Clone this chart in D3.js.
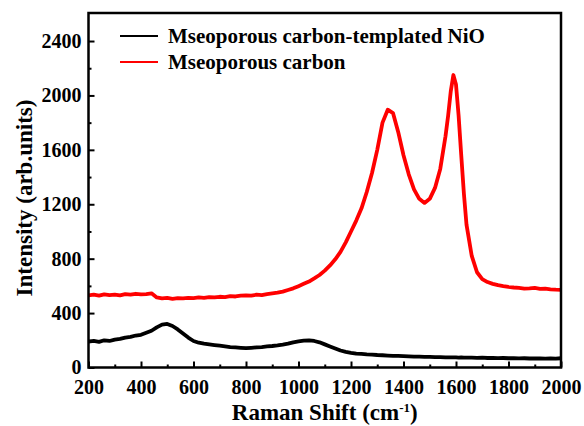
<!DOCTYPE html>
<html>
<head>
<meta charset="utf-8">
<script src="https://cdnjs.cloudflare.com/ajax/libs/d3/7.8.5/d3.min.js"></script>
<style>
  body { margin: 0; background: #fff; }
</style>
</head>
<body>
<script>
// Raman shift (cm-1) sampled along the spectra
var ramanShift = [200, 220, 240, 260, 280, 300, 320, 340, 360, 380, 400, 420, 440, 460, 480, 500, 520, 540, 560, 580,
    600, 620, 640, 660, 680, 700, 720, 740, 760, 780, 800, 820, 840, 860, 880, 900, 920, 940, 960, 980,
    1000, 1020, 1040, 1060, 1080, 1100, 1120, 1140, 1160, 1180, 1200, 1220, 1240, 1260, 1280, 1300, 1320, 1340, 1360, 1380,
    1400, 1420, 1440, 1460, 1480, 1500, 1520, 1540, 1560, 1570, 1580, 1590, 1600, 1610, 1620, 1630, 1640, 1660, 1680, 1700,
    1720, 1740, 1760, 1780, 1800, 1820, 1840, 1860, 1880, 1900, 1920, 1940, 1960, 1980, 2000];

// Mseoporous carbon-templated NiO (black)
var nioIntensity = [190, 195, 188, 200, 195, 205, 210, 220, 225, 235, 240, 255, 270, 295, 315, 320, 305, 280, 250, 220,
    195, 182, 175, 170, 165, 160, 155, 150, 148, 145, 142, 145, 148, 150, 155, 158, 162, 168, 175, 185,
    192, 198, 200, 195, 185, 170, 155, 140, 125, 115, 108, 102, 100, 97, 95, 92, 90, 88, 86, 85,
    84, 82, 80, 80, 78, 78, 76, 76, 75, 75, 74, 75, 74, 73, 74, 73, 72, 72, 71, 72,
    70, 70, 69, 70, 68, 68, 67, 68, 66, 66, 67, 65, 66, 65, 68];

// Mseoporous carbon (red)
var carbonIntensity = [530, 535, 528, 538, 532, 536, 530, 540, 535, 542, 538, 540, 545, 515, 508, 512, 505, 510, 508, 512,
    510, 515, 512, 518, 515, 520, 518, 525, 522, 528, 530, 528, 535, 532, 540, 545, 550, 558, 570, 582,
    598, 615, 632, 655, 680, 712, 750, 795, 850, 920, 1000, 1080, 1170, 1290, 1430, 1600, 1800, 1895, 1870, 1730,
    1560, 1420, 1310, 1240, 1210, 1240, 1320, 1460, 1700, 1850, 2030, 2150, 2080, 1850, 1560, 1280, 1050, 820, 700, 650,
    628, 615, 605, 598, 592, 588, 585, 580, 582, 585, 578, 580, 575, 572, 570];

var seriesNames = ["Mseoporous carbon-templated NiO", "Mseoporous carbon"];
var seriesColors = ["#000000", "#ff0000"];
var xTicks = [200, 400, 600, 800, 1000, 1200, 1400, 1600, 1800, 2000];
var yTicks = [0, 400, 800, 1200, 1600, 2000, 2400];

var width = 584, height = 426;
var margin = {top: 13, right: 23, bottom: 58.5, left: 88.5};
var serif = "'Liberation Serif', 'Times New Roman', 'DejaVu Serif', serif";

var svg = d3.select("body").append("svg")
    .attr("width", width)
    .attr("height", height);

var xScale = d3.scaleLinear()
    .domain([200, 2000])
    .range([margin.left, width - margin.right]);

var yScale = d3.scaleLinear()
    .domain([0, 2606])
    .range([height - margin.bottom, margin.top]);

var series = [nioIntensity, carbonIntensity];

var line = d3.line()
    .x(function(d) { return xScale(d[0]); })
    .y(function(d) { return yScale(d[1]); });

// curves
series.forEach(function(values, i) {
    svg.append("path")
        .datum(ramanShift.map(function(s, j) { return [s, values[j]]; }))
        .attr("fill", "none")
        .attr("stroke", seriesColors[i])
        .attr("stroke-width", 3.8)
        .attr("stroke-linejoin", "round")
        .attr("d", line);
});

// inward ticks: major + minor
var xAxis = d3.axisBottom(xScale).tickValues(xTicks).tickSizeInner(-6).tickSizeOuter(0).tickPadding(12).tickFormat(d3.format("d"));
var xMinor = d3.axisBottom(xScale).tickValues(d3.range(300, 2000, 200)).tickSizeInner(-3).tickSizeOuter(0).tickFormat("");
var yAxis = d3.axisLeft(yScale).tickValues(yTicks).tickSizeInner(-6).tickSizeOuter(0).tickPadding(7).tickFormat(d3.format("d"));
var yMinor = d3.axisLeft(yScale).tickValues(d3.range(200, 2600, 400)).tickSizeInner(-3).tickSizeOuter(0).tickFormat("");

function styleAxis(g) {
    g.select(".domain").remove();
    g.selectAll("line").attr("stroke", "#000").attr("stroke-width", 2);
    g.selectAll("text")
        .attr("fill", "#000")
        .style("font-family", serif)
        .style("font-weight", "bold")
        .style("font-size", "20px");
}

svg.append("g").attr("transform", "translate(0," + (height - margin.bottom) + ")").call(xAxis).call(styleAxis);
svg.append("g").attr("transform", "translate(0," + (height - margin.bottom) + ")").call(xMinor).call(styleAxis);
svg.append("g").attr("transform", "translate(" + margin.left + ",0)").call(yAxis).call(styleAxis);
svg.append("g").attr("transform", "translate(" + margin.left + ",0)").call(yMinor).call(styleAxis);

// frame
svg.append("rect")
    .attr("x", margin.left)
    .attr("y", margin.top)
    .attr("width", width - margin.left - margin.right)
    .attr("height", height - margin.top - margin.bottom)
    .attr("fill", "none")
    .attr("stroke", "#000")
    .attr("stroke-width", 2.5);

// axis titles
var xTitle = svg.append("text")
    .attr("x", (margin.left + width - margin.right) / 2)
    .attr("y", 420)
    .attr("text-anchor", "middle")
    .style("font-family", serif)
    .style("font-weight", "bold")
    .style("font-size", "23px");
xTitle.append("tspan").text("Raman Shift (cm");
xTitle.append("tspan").attr("dy", -8).style("font-size", "13px").text("-1");
xTitle.append("tspan").attr("dy", 8).text(")");

svg.append("text")
    .attr("transform", "translate(32,198) rotate(-90)")
    .attr("text-anchor", "middle")
    .style("font-family", serif)
    .style("font-weight", "bold")
    .style("font-size", "23px")
    .text("Intensity (arb.units)");

// legend
var legend = svg.selectAll(".legend")
    .data(seriesNames)
    .enter()
    .append("g")
    .attr("class", "legend")
    .attr("transform", function(d, i) { return "translate(120," + (36 + i * 26) + ")"; });

legend.append("line")
    .attr("x1", 0).attr("x2", 38)
    .attr("stroke", function(d, i) { return seriesColors[i]; })
    .attr("stroke-width", 2);

legend.append("text")
    .attr("x", 48)
    .attr("dy", "0.35em")
    .style("font-family", serif)
    .style("font-weight", "bold")
    .style("font-size", "21px")
    .text(function(d) { return d; });
</script>
</body>
</html>
